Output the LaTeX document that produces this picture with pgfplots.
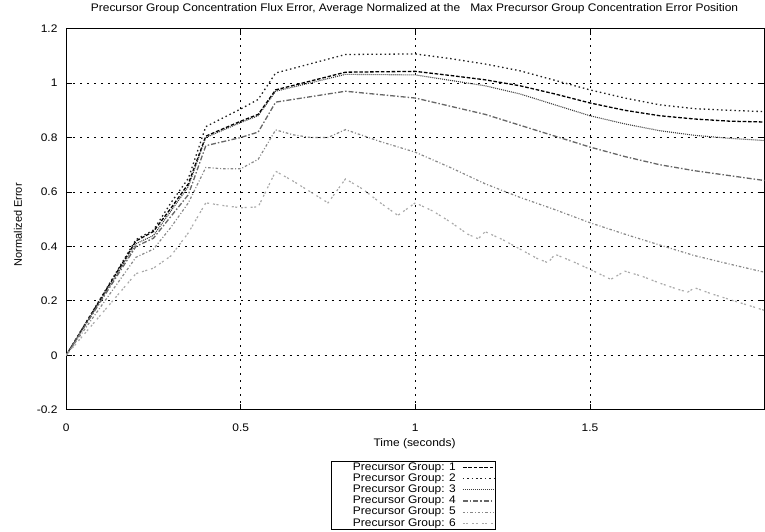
\documentclass[border=0pt]{standalone}
\usepackage{fontspec}
\setmainfont{Liberation Sans}[FakeStretch=1.09]
\newfontfamily\ylabfont{Liberation Sans}
\usepackage{pgfplots}
\pgfplotsset{compat=1.18}

\definecolor{gA}{HTML}{000000}
\definecolor{gB}{HTML}{222222}
\definecolor{gC}{HTML}{3C3C3C}
\definecolor{gD}{HTML}{666666}
\definecolor{gE}{HTML}{888888}
\definecolor{gF}{HTML}{AAAAAA}

\begin{document}
\begin{tikzpicture}
\begin{axis}[
  scale only axis,
  width=700bp, height=382bp,
  xmin=0, xmax=2, ymin=-0.2, ymax=1.2,
  xtick={0,0.5,1,1.5,2},
  xticklabels={0,0.5,1,1.5,},
  ytick={-0.2,0,0.2,0.4,0.6,0.8,1,1.2},
  yticklabels={-0.2,0,0.2,0.4,0.6,0.8,1,1.2},
  tick align=inside,
  major tick length=6bp,
  every tick/.style={black, line width=0.8bp},
  axis line style={line width=1bp},
  grid=major,
  major grid style={black, line width=0.8bp, dash pattern=on 2bp off 5bp},
  font=\fontsize{11bp}{13bp}\selectfont,
  xticklabel style={anchor=center, inner sep=0pt, yshift=-18bp},
  yticklabel style={anchor=east, inner sep=0pt, xshift=-8.5bp},
  title={Precursor Group Concentration Flux Error, Average Normalized at the\ \ \ Max Precursor Group Concentration Error Position},
  title style={at={(axis description cs:0.4989,1.036)}, anchor=center, inner sep=0pt},
  xlabel={Time (seconds)},
  xlabel style={at={(axis description cs:0.4989,-0.088)}, anchor=center, inner sep=0pt},
  ylabel={\ylabfont\fontsize{11bp}{13bp}\selectfont Normalized Error},
  ylabel style={at={(axis description cs:-0.069,0.4855)}, anchor=center, inner sep=0pt},
  legend style={
    at={(axis description cs:0.4974,-0.1343)}, anchor=north,
    draw=black, line width=0.8bp, fill=white,
    inner xsep=1bp, inner ysep=0.6bp,
    row sep=0pt, column sep=6bp,
    nodes={inner sep=0.5bp, text height=7.9bp, text depth=2.3bp},
    legend plot pos=right,
    cells={anchor=east},
    font=\fontsize{11bp}{13bp}\selectfont,
  },
  legend image code/.code={\draw[#1] (0bp,0bp) -- (31bp,0bp);},
  no marks,
]

% Group 1
\addplot[gA, line width=1.3bp, dash pattern=on 3.6bp off 1.8bp] table {
0 0
0.2 0.42
0.25 0.455
0.3 0.54
0.35 0.63
0.4 0.805
0.5 0.86
0.55 0.885
0.6 0.975
0.8 1.04
1.0 1.043
1.1 1.028
1.2 1.012
1.3 0.99
1.4 0.96
1.5 0.927
1.6 0.90
1.7 0.88
1.8 0.868
1.9 0.86
2.0 0.857
};
\addlegendentry{\hspace*{20bp}Precursor Group: 1}

% Group 2
\addplot[gB, line width=1.3bp, dash pattern=on 1.5bp off 2.9bp] table {
0 0
0.2 0.425
0.25 0.46
0.3 0.56
0.35 0.65
0.4 0.84
0.5 0.905
0.55 0.94
0.6 1.037
0.8 1.105
1.0 1.107
1.1 1.09
1.2 1.07
1.3 1.045
1.4 1.01
1.5 0.975
1.6 0.945
1.7 0.92
1.8 0.906
1.9 0.90
2.0 0.895
};
\addlegendentry{\hspace*{20bp}Precursor Group: 2}

% Group 3
\addplot[gC, line width=1.1bp, dash pattern=on 1bp off 1bp] table {
0 0
0.2 0.41
0.25 0.44
0.3 0.53
0.35 0.62
0.4 0.80
0.5 0.855
0.55 0.88
0.6 0.97
0.8 1.032
1.0 1.03
1.1 1.01
1.2 0.99
1.3 0.96
1.4 0.92
1.5 0.88
1.6 0.85
1.7 0.825
1.8 0.808
1.9 0.797
2.0 0.789
};
\addlegendentry{\hspace*{20bp}Precursor Group: 3}

% Group 4
\addplot[gD, line width=1.3bp, dash pattern=on 5bp off 2bp on 1.5bp off 2bp] table {
0 0
0.2 0.40
0.25 0.43
0.3 0.51
0.35 0.59
0.4 0.77
0.5 0.80
0.55 0.82
0.6 0.93
0.8 0.97
1.0 0.945
1.1 0.915
1.2 0.885
1.3 0.845
1.4 0.805
1.5 0.765
1.6 0.73
1.7 0.70
1.8 0.678
1.9 0.66
2.0 0.642
};
\addlegendentry{\hspace*{20bp}Precursor Group: 4}

% Group 5
\addplot[gE, line width=1.2bp, dash pattern=on 2.5bp off 2bp on 1bp off 2bp] table {
0 0
0.2 0.36
0.25 0.39
0.3 0.47
0.35 0.56
0.4 0.69
0.45 0.685
0.5 0.685
0.55 0.72
0.6 0.828
0.65 0.81
0.7 0.80
0.75 0.80
0.8 0.829
0.9 0.785
1.0 0.746
1.1 0.69
1.2 0.63
1.3 0.58
1.4 0.535
1.5 0.487
1.6 0.445
1.7 0.405
1.8 0.366
1.9 0.335
2.0 0.305
};
\addlegendentry{\hspace*{20bp}Precursor Group: 5}

% Group 6
\addplot[gF, line width=1.2bp, dash pattern=on 2bp off 1.5bp on 2bp off 4bp] table {
0 0
0.2 0.30
0.25 0.32
0.3 0.365
0.35 0.45
0.4 0.56
0.45 0.55
0.5 0.542
0.55 0.545
0.6 0.676
0.65 0.64
0.7 0.60
0.75 0.56
0.8 0.648
0.85 0.61
0.9 0.56
0.95 0.514
1.0 0.56
1.05 0.53
1.1 0.49
1.15 0.445
1.18 0.428
1.2 0.454
1.25 0.425
1.3 0.39
1.35 0.355
1.38 0.340
1.4 0.371
1.45 0.345
1.5 0.316
1.56 0.279
1.6 0.309
1.65 0.29
1.7 0.265
1.75 0.243
1.78 0.232
1.8 0.248
1.85 0.225
1.9 0.205
1.95 0.185
2.0 0.165
};
\addlegendentry{\hspace*{20bp}Precursor Group: 6}

\end{axis}
\pgfresetboundingbox
\path (-66.3bp,-122.3bp) rectangle (700.5bp,410.7bp);
\end{tikzpicture}
\end{document}
